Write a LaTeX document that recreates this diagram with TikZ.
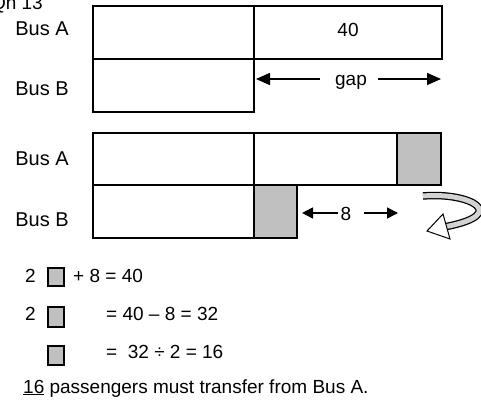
\documentclass[tikz,border=0pt]{standalone}
\usepackage{fontspec}
\setmainfont{Liberation Sans}
\usetikzlibrary{arrows.meta}
\definecolor{boxgray}{HTML}{C0C0C0}
\tikzset{
  bar/.style={draw=black, line width=1.6pt},
  unit/.style={draw=black, fill=boxgray, line width=1.6pt},
  txt/.style={inner sep=0pt, font=\fontsize{19}{23}\selectfont},
  lbl/.style={inner sep=0pt, anchor=base, font=\fontsize{20}{24}\selectfont},
  gaparrow/.style={line width=1.6pt, -{Triangle[length=14pt,width=12pt]}},
  eightarrow/.style={line width=1.6pt, -{Triangle[length=11pt,width=11pt]}},
  eq/.style={inner sep=0pt, anchor=base west, font=\fontsize{19}{23}\selectfont},
  smallbox/.style={draw=black, fill=boxgray, line width=1.3pt}
}
\begin{document}
\begin{tikzpicture}[x=1pt,y=-1pt]
\useasboundingbox (0,0) rectangle (481,403);
% title (cut at top)
\node[txt, anchor=base east] (title) at (43,10) {Qn 13};
% ---- top diagram ----
\node[lbl] (la1) at (42,36) {Bus A};
\node[lbl] (lb1) at (42,96) {Bus B};
\draw[bar] (93,6) rectangle (442,59);
\draw[bar] (254,6) -- (254,59);
\draw[bar] (93,59) rectangle (254,112);
\node[txt, anchor=base] (forty) at (348,37) {40};
\node[txt, anchor=base] (gap) at (351,86) {gap};
\coordinate (gL) at (320,79);
\coordinate (gLt) at (256,79);
\coordinate (gR) at (378,79);
\coordinate (gRt) at (441,79);
\draw[gaparrow] (gL) -- (gLt);
\draw[gaparrow] (gR) -- (gRt);
% ---- second diagram ----
\node[lbl] (la2) at (42,166) {Bus A};
\node[lbl] (lb2) at (42,226) {Bus B};
\draw[bar] (93,133) rectangle (441,185);
\draw[bar] (254,133) -- (254,185);
\draw[unit] (397,133) rectangle (441,185);
\draw[bar] (93,185) rectangle (254,238);
\draw[unit] (254,185) rectangle (297,238);
\node[txt, anchor=base] (eight) at (346,220) {8};
\coordinate (eL) at (338,213);
\coordinate (eLt) at (302,213);
\coordinate (eR) at (364,213);
\coordinate (eRt) at (398,213);
\draw[eightarrow] (eL) -- (eLt);
\draw[eightarrow] (eR) -- (eRt);
% curved hollow arrow
\coordinate (cs) at (423,196);
\coordinate (ce) at (446.5,226.5);
\draw[line width=7.5pt] (cs) .. controls (470,192) and (510,214) .. (ce);
\draw[line width=5pt, color=boxgray!70] (cs) .. controls (470,192) and (510,214) .. (ce);
\draw[line width=1pt, fill=white, line join=miter] (427,231) -- (443,214) -- (450,239) -- cycle;
% ---- equations ----
\node[eq] (e1a) at (25,282) {2};
\draw[smallbox] (48,268) rectangle (64,286);
\node[eq] (e1b) at (73,282) {+ 8 = 40};
\node[eq] (e2a) at (25,320) {2};
\draw[smallbox] (48,307) rectangle (64,327);
\node[eq] (e2b) at (106,320) {= 40 – 8 = 32};
\draw[smallbox] (48,346) rectangle (64,365);
\node[eq] (e3b) at (106,358) {= \ 32 ÷ 2 = 16};
\node[eq] (concl) at (23,393) {\underline{16} passengers must transfer from Bus A.};
\end{tikzpicture}
\end{document}
